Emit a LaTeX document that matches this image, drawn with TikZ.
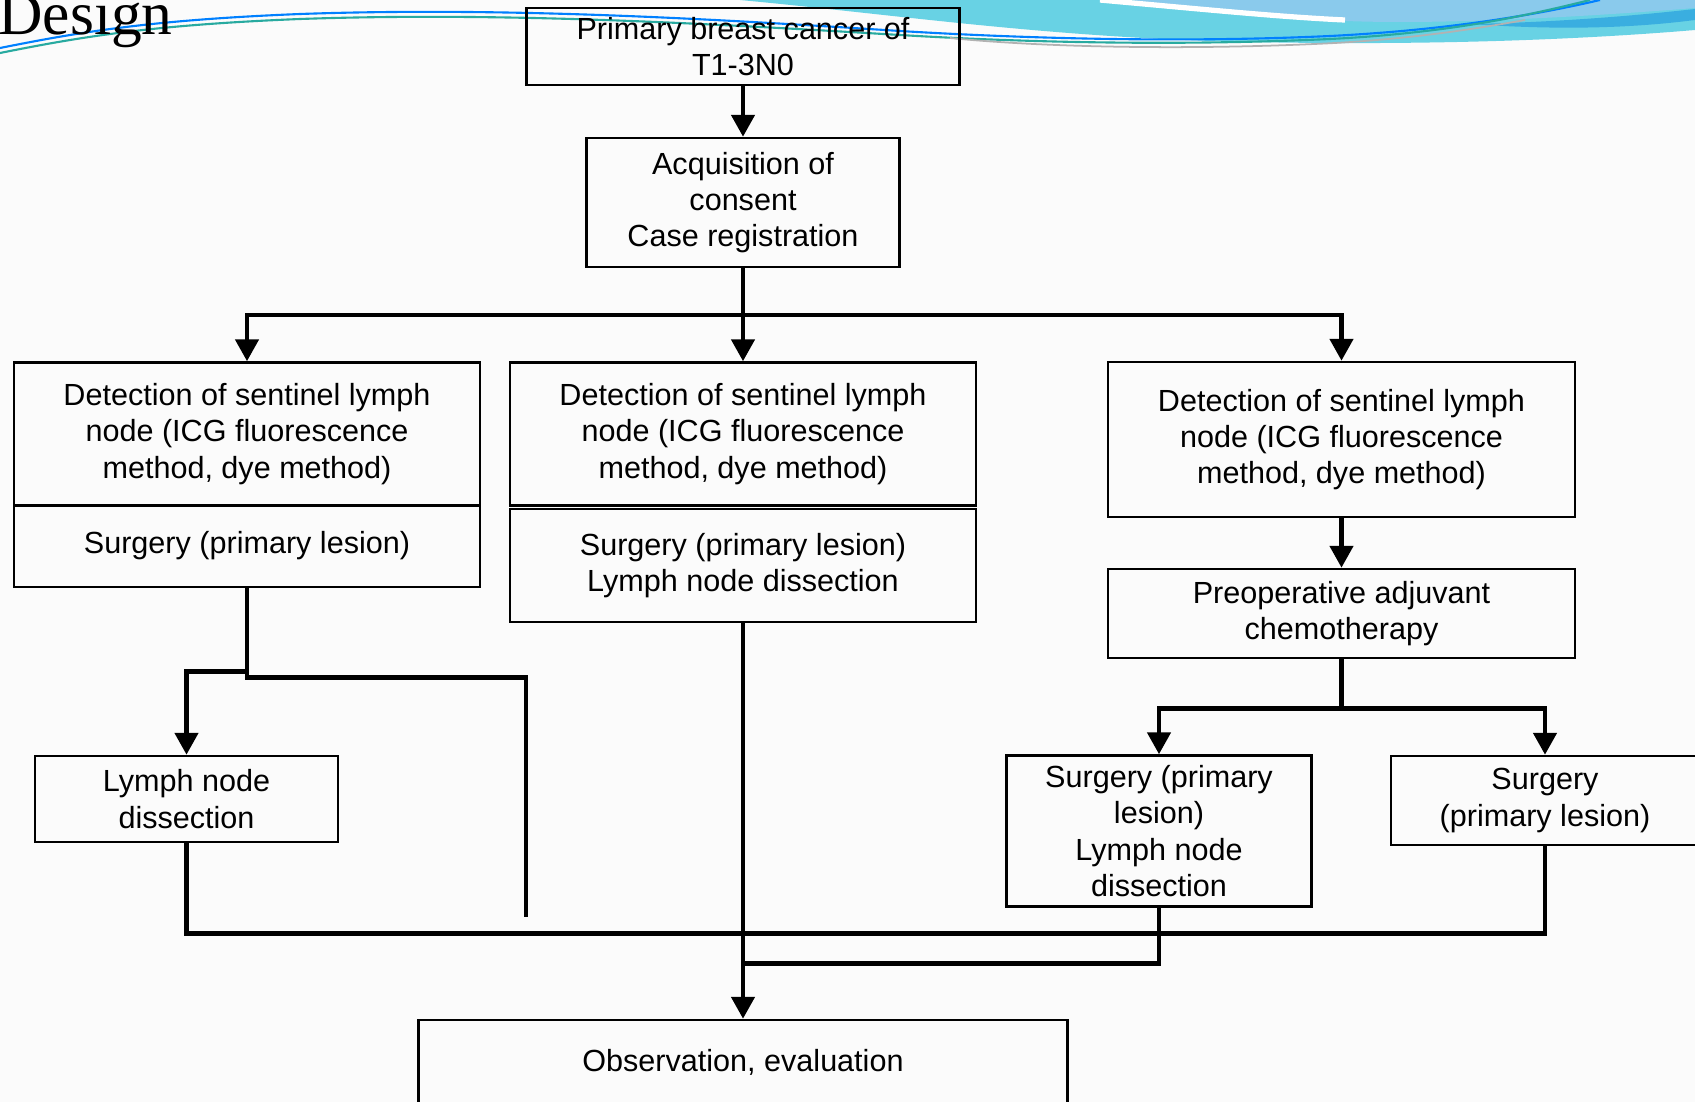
\documentclass[tikz,border=0pt]{standalone}
\usepackage{fontspec}
\setmainfont{Liberation Sans}
\newfontfamily\serifface{Liberation Serif}
\usetikzlibrary{arrows.meta}

\definecolor{wavecyan}{RGB}{104,210,228}
\definecolor{waveblue}{RGB}{138,202,236}
\definecolor{wavedeep}{RGB}{58,174,224}
\definecolor{waveteal}{RGB}{40,170,160}

\tikzset{
  box/.style={draw,line width=1.4pt,align=center,inner sep=2pt,
    font=\fontsize{17.4}{20.6}\selectfont},
  link/.style={line width=2.8pt},
}

\begin{document}
\begin{tikzpicture}[x=0.02cm,y=-0.02cm,>={Triangle[length=12.5pt,width=13pt]}]
    \clip (0,0) rectangle (1695,1102);
    \fill[gray!3] (0,0) rectangle (1695,1102);

    % header waves
    \fill[wavecyan] (740,0) .. controls (900,15) and (1050,38) .. (1250,42)
        .. controls (1450,46) and (1600,38) .. (1695,30) -- (1695,0) -- cycle;
    \fill[waveblue] (1130,0) .. controls (1220,12) and (1300,22) .. (1400,22)
        .. controls (1500,22) and (1620,14) .. (1695,8) -- (1695,0) -- cycle;
    \fill[wavedeep] (1470,24) .. controls (1570,22) and (1650,14) .. (1695,9) -- (1695,20)
        .. controls (1640,27) and (1570,31) .. (1470,24) -- cycle;
    \draw[white,line width=3pt] (1100,0) .. controls (1200,9) and (1280,17) .. (1345,20);
    \draw[blue!50!cyan,line width=1.2pt] (0,48) .. controls (80,32) and (150,20) .. (300,14)
        .. controls (500,7) and (700,18) .. (900,31) .. controls (1050,40) and (1200,42) .. (1330,36)
        .. controls (1450,30) and (1540,14) .. (1600,0);
    \draw[waveteal,line width=1.2pt] (0,53) .. controls (80,37) and (150,25) .. (300,19)
        .. controls (500,12) and (700,23) .. (900,35) .. controls (1050,44) and (1200,45) .. (1330,39)
        .. controls (1450,33) and (1530,15) .. (1590,0);
    \draw[gray!60,line width=1pt] (950,38) .. controls (1050,48) and (1200,50) .. (1335,43)
        .. controls (1420,38) and (1480,28) .. (1525,20);
    \node[anchor=base east,inner sep=0pt,font=\serifface\fontsize{35}{40}\selectfont] (title) at (173,34) {Design};

    \node[box,minimum width=8.66cm,minimum height=1.54cm] (primary) at (743,46.5) {Primary breast cancer of\\T1-3N0};
    \node[box,minimum width=6.26cm,minimum height=2.58cm] (consent) at (743,202.5) {Acquisition of\\consent\\Case registration};

    \node[box,minimum width=9.32cm,minimum height=2.86cm] (detA) at (247,434) {Detection of sentinel lymph\\node (ICG fluorescence\\method, dye method)};
    \node[box,minimum width=9.32cm,minimum height=1.64cm] (surgA) at (247,546) {Surgery (primary lesion)};
    \node[box,minimum width=9.32cm,minimum height=2.86cm] (detB) at (743,434) {Detection of sentinel lymph\\node (ICG fluorescence\\method, dye method)};
    \node[box,minimum width=9.32cm,minimum height=2.26cm] (surgB) at (743,565.5) {Surgery (primary lesion)\\Lymph node dissection};
    \node[box,minimum width=9.34cm,minimum height=3.10cm] (detC) at (1341.5,439.5) {Detection of sentinel lymph\\node (ICG fluorescence\\method, dye method)};
    \node[box,minimum width=9.34cm,minimum height=1.78cm] (chemo) at (1341.5,613.5) {Preoperative adjuvant\\chemotherapy};

    \node[box,minimum width=6.06cm,minimum height=1.72cm] (dissA) at (186.5,799) {Lymph node\\dissection};
    \node[box,minimum width=6.10cm,minimum height=3.02cm] (surgC) at (1159,831) {Surgery (primary\\lesion)\\Lymph node\\dissection};
    \node[box,minimum width=6.16cm,minimum height=1.78cm] (surgD) at (1545,800.5) {Surgery\\(primary lesion)};
    \node[box,minimum width=12.98cm,minimum height=1.68cm] (observe) at (743,1062) {Observation, evaluation};

    \coordinate (split) at (743,315);
    \coordinate (stub) at (526,917);

    \draw[link,->] (primary) -- (consent);
    \draw[link,->] (consent) -- (detB);
    \draw[link,->] (split) -| (detA.north);
    \draw[link,->] (split) -| (detC.north);

    \draw[link,->] (surgA.south) ++(0,83) -| (dissA.north);
    \draw[link] (surgA.south) -- ++(0,89) -| (stub);
    \draw[link] (dissA.south) -- ++(0,90) -| (surgD.south);

    \draw[link,->] (surgB) -- (observe);

    \draw[link,->] (detC) -- (chemo);
    \draw[link] (chemo.south) -- ++(0,49.5) coordinate (split2);
    \draw[link,->] (split2) -| (surgC.north);
    \draw[link,->] (split2) -| (surgD.north);
    \draw[link] (surgC.south) -- ++(0,56) -| (surgB.south);
\end{tikzpicture}
\end{document}
